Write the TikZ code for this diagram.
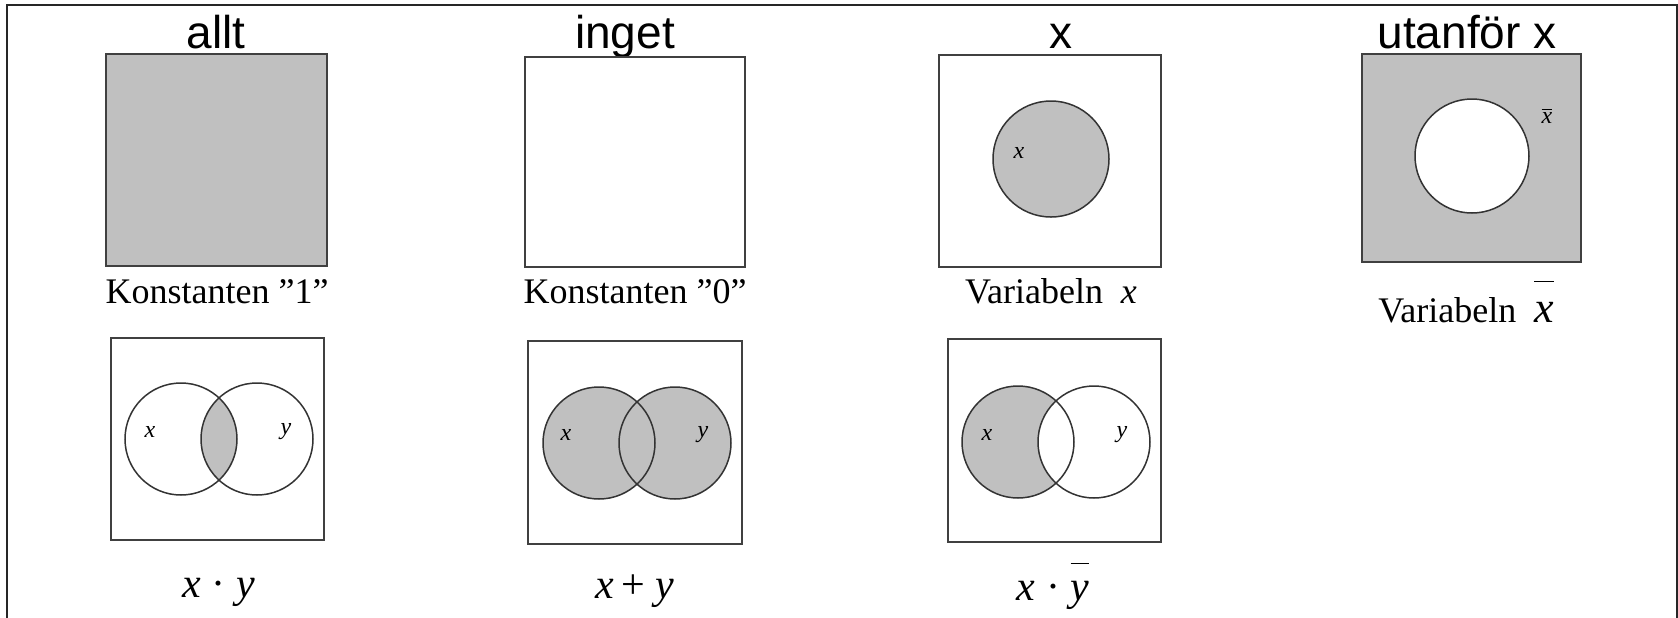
\documentclass[tikz,border=0pt]{standalone}
\usepackage{fontspec}
\setmainfont{Liberation Serif}
\newfontfamily\arialfont{Liberation Sans}
\definecolor{venngray}{HTML}{C0C0C0}
\definecolor{edgegray}{HTML}{404040}
% bar set well above a letter
\newcommand{\hibar}[2]{$\overline{\rule{0pt}{#2}\smash{\textit{#1}}}$}

\begin{document}
\begin{tikzpicture}[x=0.5pt, y=-0.5pt,
    frame/.style={draw=black!85, line width=1.1pt},
    setbox/.style={draw=edgegray, line width=1pt},
    ring/.style={draw=black!80, line width=0.75pt},
    head/.style={font=\arialfont\fontsize{23}{27}\selectfont, anchor=base},
    undertext/.style={font=\fontsize{18}{22}\selectfont, anchor=base},
    expr/.style={font=\fontsize{21}{25}\selectfont, anchor=base},
    var/.style={font=\fontsize{12}{14}\selectfont\itshape}]
  \useasboundingbox (0,0) rectangle (1678,617);
  \draw[frame] (7,618) -- (7,5) -- (1677,5) -- (1677,618);

  % top row: constants and one variable
  \node[head] (tAll) at (216,48) {allt};
  \node[head] (tNone) at (625,48) {inget};
  \node[head] (tX) at (1061,48) {x};
  \node[head] (tNotX) at (1467,48) {utanför x};

  \draw[setbox, fill=venngray] (106,54) rectangle (327,266);
  \draw[setbox] (525,57) rectangle (745,267);
  \draw[setbox] (939,55) rectangle (1161,267);
  \draw[ring, fill=venngray] (1051,159) circle [radius=29pt];
  \node[var] (x3) at (1019,153) {x};
  \draw[setbox, fill=venngray] (1362,54) rectangle (1581,262);
  \draw[ring, fill=white] (1472,156) circle [radius=28.5pt];
  \node[var] (x4) at (1547,116) {$\overline{\mbox{\textit{x}}}$};

  \node[undertext] (cOne) at (217,303) {Konstanten ”1”};
  \node[undertext] (cZero) at (635,303) {Konstanten ”0”};
  \node[undertext] (vX) at (1051,303) {Variabeln\ \ \textit{x}};
  \node[undertext] (vNotX) at (1466,322) {Variabeln\ \ {\fontsize{22}{26}\selectfont\hibar{x}{0.85em}}};

  % bottom row: two variables
  \draw[setbox] (111,338) rectangle (324,540);
  \begin{scope}
    \clip (181,439) circle [radius=28pt];
    \fill[venngray] (257,439) circle [radius=28pt];
  \end{scope}
  \draw[ring] (181,439) circle [radius=28pt] (257,439) circle [radius=28pt];
  \node[var] (x5) at (150,432) {x};
  \node[var] (y5) at (286,432) {y};

  \draw[setbox] (528,341) rectangle (742,544);
  \fill[venngray] (599,443) circle [radius=28pt] (675,443) circle [radius=28pt];
  \draw[ring] (599,443) circle [radius=28pt] (675,443) circle [radius=28pt];
  \node[var] (x6) at (566,435) {x};
  \node[var] (y6) at (703,435) {y};

  \draw[setbox] (948,339) rectangle (1161,542);
  \fill[venngray] (1018,442) circle [radius=28pt];
  \fill[white] (1094,442) circle [radius=28pt];
  \draw[ring] (1018,442) circle [radius=28pt] (1094,442) circle [radius=28pt];
  \node[var] (x7) at (987,435) {x};
  \node[var] (y7) at (1122,435) {y};

  \node[expr] (fAnd) at (219,597) {\textit{x} · \textit{y}};
  \node[expr] (fOr) at (635,598) {\textit{x}\,+\ \textit{y}};
  \node[expr] (fAndNot) at (1053,600) {\textit{x} · \hibar{y}{0.8em}};
\end{tikzpicture}
\end{document}
